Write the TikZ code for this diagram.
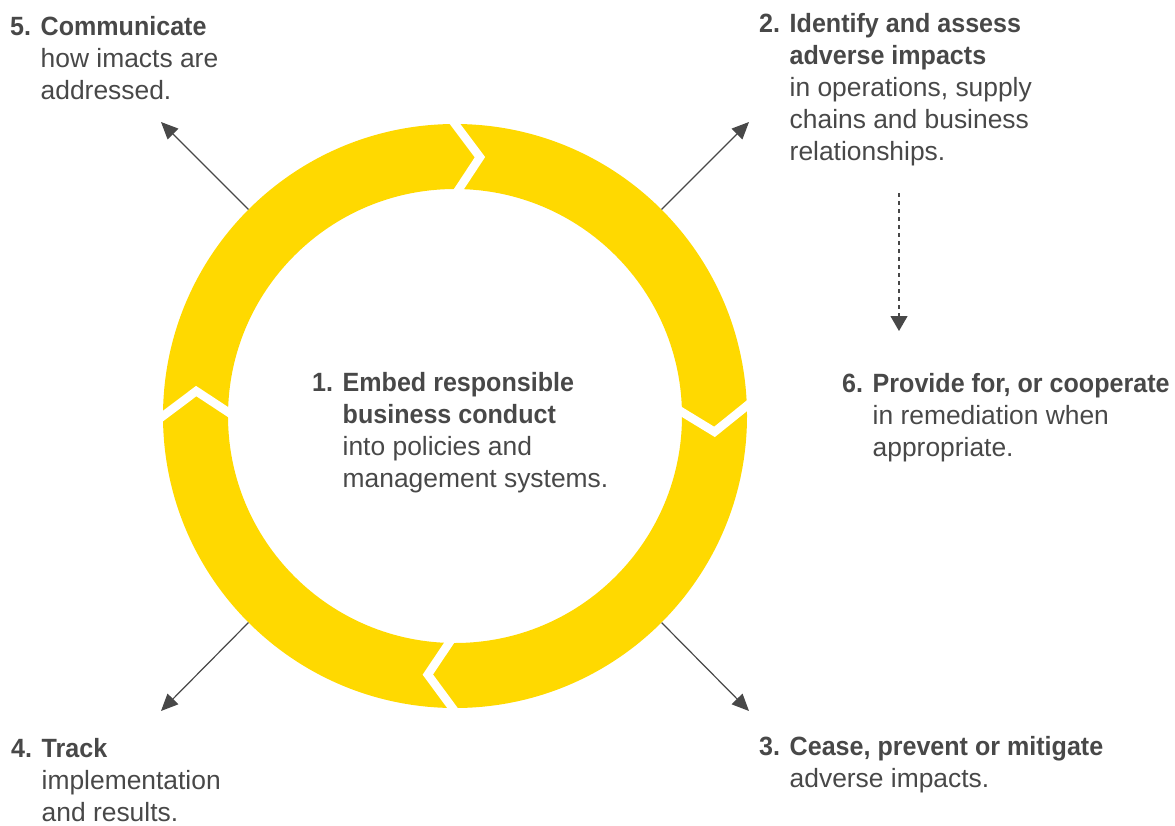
\documentclass[tikz,border=0pt]{standalone}
\usepackage{fontspec}
\setmainfont{Liberation Sans}[BoldFeatures={FakeStretch=0.95}]
\usetikzlibrary{arrows.meta}
\definecolor{ringyellow}{HTML}{FFD900}
\definecolor{inkgray}{HTML}{484848}
% numbered step: bold number in a hanging column, lines stacked beside it
\newcommand{\stepblock}[2]{\makebox[30.5pt][l]{\bfseries #1}\begin{tabular}[t]{@{}l@{}}#2\end{tabular}}
\begin{document}
\begin{tikzpicture}[x=1pt,y=-1pt,
  chev/.style={draw=white, line width=8.5pt, line join=miter, shorten <=-10pt, shorten >=-10pt},
  pointer/.style={draw=inkgray, line width=1.2pt, -{Triangle[length=17pt,width=15pt]}},
  steptext/.style={anchor=base west, inner sep=0pt, text=inkgray, font=\fontsize{26.4}{32}\selectfont}]
\useasboundingbox (0,0) rectangle (1175,825);

% the cycle ring
\coordinate (c) at (455,416);
\node[circle, minimum size=584pt, inner sep=0pt] (ring) at (c) {};
\fill[ringyellow, even odd rule] (c) circle[radius=292pt] (c) circle[radius=227pt];

% chevron cuts showing the clockwise flow
\foreach \a in {90, 2, 269.5, 180}
  \draw[chev] ([shift={(c)}]\a:292pt) -- ([shift={(c)}]{\a-5.5}:260pt) -- ([shift={(c)}]{\a-1}:227pt);

% arrow ends
\coordinate (p5) at (161,122);
\coordinate (p2) at (749,122);
\coordinate (p3) at (749,711);
\coordinate (p4) at (161,711);
\coordinate (d1) at (899,193);
\coordinate (d2) at (899,331);

\draw[pointer] (ring.135) -- (p5);
\draw[pointer] (ring.45) -- (p2);
\draw[pointer] (ring.-45) -- (p3);
\draw[pointer] (ring.-135) -- (p4);
\draw[pointer, dash pattern=on 4pt off 4pt, -{Triangle[length=15pt,width=17pt]}] (d1) -- (d2);

% step texts
\node[steptext] (s1) at (312,391) {\stepblock{1.}{\textbf{Embed responsible}\\\textbf{business conduct}\\into policies and\\management systems.}};
\node[steptext] (s2) at (759,32) {\stepblock{2.}{\textbf{Identify and assess}\\\textbf{adverse impacts}\\in operations, supply\\chains and business\\relationships.}};
\node[steptext] (s3) at (759,755) {\stepblock{3.}{\textbf{Cease, prevent or mitigate}\\adverse impacts.}};
\node[steptext] (s4) at (11,757) {\stepblock{4.}{\textbf{Track}\\implementation\\and results.}};
\node[steptext] (s5) at (10,35) {\stepblock{5.}{\textbf{Communicate}\\how imacts are\\addressed.}};
\node[steptext] (s6) at (842,392) {\stepblock{6.}{\textbf{Provide for, or cooperate}\\in remediation when\\appropriate.}};
\end{tikzpicture}
\end{document}
